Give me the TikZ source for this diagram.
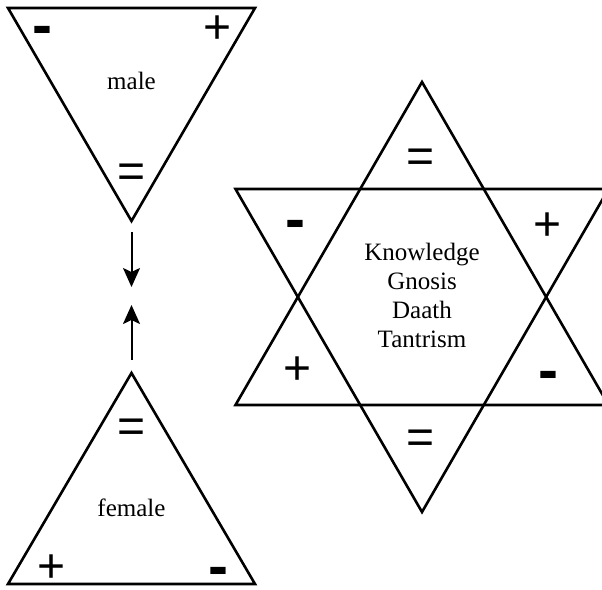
\documentclass[tikz,border=0pt]{standalone}
\usepackage{fontspec}
\setmainfont{Liberation Serif}
\newfontfamily\signfont{Liberation Sans}
\usetikzlibrary{arrows.meta}
\begin{document}
\begin{tikzpicture}[
    x=1pt, y=-1pt,
    tri/.style={line width=2.6pt, line join=miter},
    word/.style={font=\fontsize{25}{29}\selectfont, align=center, inner sep=0pt},
    plus/.style={font=\signfont\fontsize{48}{48}\selectfont, inner sep=0pt, yshift=-3pt},
    minus/.style={font=\signfont\bfseries\fontsize{60}{60}\selectfont, inner sep=0pt, yshift=-8pt},
    eq/.style={font=\signfont\fontsize{48}{48}\selectfont, inner sep=0pt, yshift=-4pt},
    flow/.style={-{Stealth[length=19pt, width=17pt, inset=4pt]}, line width=2pt},
]
\useasboundingbox (0,0) rectangle (602,589);
\clip (0,0) rectangle (602,589);
% male triangle
\draw[tri] (8,8) -- (255,8) -- (131.5,221) -- cycle;
\node[minus] (mminus) at (42,28) {-};
\node[plus] (mplus) at (218,27) {+};
\node[word, anchor=base] (male) at (131.5,89) {male};
\node[eq] (meq) at (132,172) {=};
% female triangle
\draw[tri] (131.5,373) -- (255,584) -- (8,584) -- cycle;
\node[eq] (feq) at (132,427) {=};
\node[word, anchor=base] (female) at (131.5,516) {female};
\node[plus] (fplus) at (52,566) {+};
\node[minus] (fminus) at (218,569) {-};
% arrows between
\coordinate (dstart) at (131.5,232);
\coordinate (dend) at (131.5,287);
\coordinate (ustart) at (131.5,360);
\coordinate (uend) at (131.5,305);
\draw[flow] (dstart) -- (dend);
\draw[flow] (ustart) -- (uend);
% star
\draw[tri] (422,82) -- (608.5,405) -- (235.5,405) -- cycle;
\draw[tri] (235.5,189) -- (608.5,189) -- (422,512) -- cycle;
\node[eq] (seqtop) at (421,157) {=};
\node[minus] (sminusl) at (295,222) {-};
\node[plus] (splusr) at (548,224) {+};
\node[plus] (splusl) at (298,368) {+};
\node[minus] (sminusr) at (548,373) {-};
\node[eq] (seqbot) at (421,438) {=};
\node[word] (gnosis) at (422,295) {Knowledge\\Gnosis\\Daath\\Tantrism};
\end{tikzpicture}
\end{document}
